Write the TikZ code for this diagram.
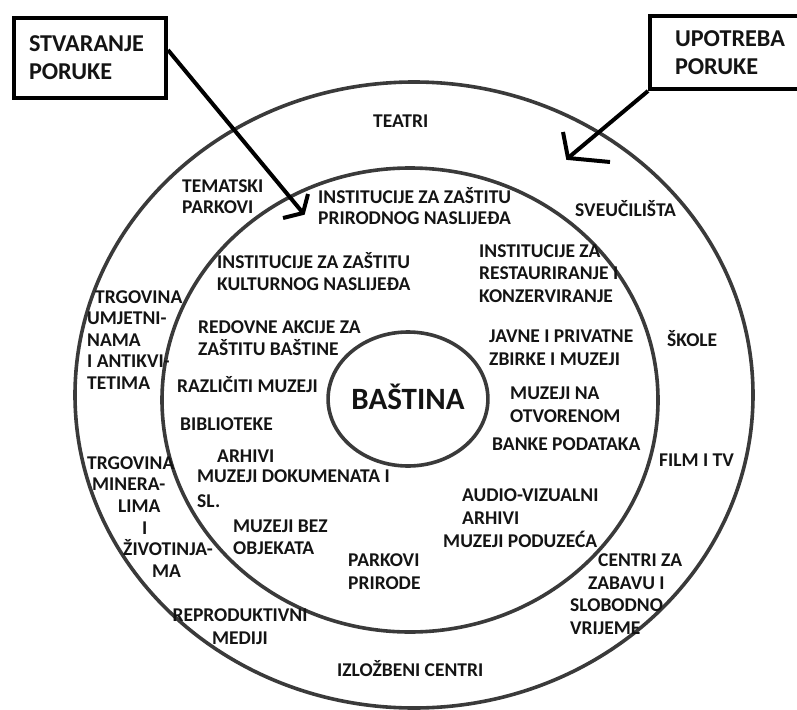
\documentclass[tikz,border=0pt]{standalone}
\usepackage{fontspec}
\setmainfont{Carlito}
\usetikzlibrary{calc,shapes.geometric}
\definecolor{ringgray}{HTML}{3A3A3A}
\definecolor{txt}{HTML}{141414}
\begin{document}
\begin{tikzpicture}[x=1pt,y=-1pt,
  ring/.style={draw=ringgray, line width=3.6pt},
  lbl/.style={font=\bfseries\fontsize{19.5}{22.5}\selectfont, inner sep=0pt, anchor=base west, align=left, text=txt},
  arr/.style={draw=black, line width=4pt},
  box/.style={draw=black, line width=4pt, font=\bfseries\fontsize{24.2}{28}\selectfont, align=left, inner ysep=0pt, text=txt, anchor=north west}]
\useasboundingbox (0,0) rectangle (797,709);
% rings
\draw[ring] (414,395) ellipse [x radius=339, y radius=313];
\draw[ring] (410,400) ellipse [x radius=248, y radius=232];
\node[ring, ellipse, minimum width=142, minimum height=134, inner sep=0pt,
      font=\bfseries\fontsize{31}{36}\selectfont, text=txt, text height=20pt, text depth=0pt] (bastina) at (408,399) {BAŠTINA};
% boxes
\node[box, text width=122, inner xsep=15, minimum height=80] (box1) at (12,16) {STVARANJE\\PORUKE};
\node[box, text width=140, inner xsep=25, minimum height=73] (box2) at (648,14) {UPOTREBA\\PORUKE};
% arrows
\coordinate (t1) at (303,213);
\coordinate (t2) at (568,158);
\draw[arr] ($(box1.east)+(0,-8)$) -- (t1);
\draw[arr] ([shift={(-20,5)}]t1) -- (t1) -- ([shift={(5,-19)}]t1);
\draw[arr] (box2.south west) -- (t2);
\draw[arr] ([shift={(-5,-26)}]t2) -- (t2) -- ([shift={(42,4)}]t2);
% outer ring labels (y = baseline of the last line)
\node[lbl] (teatri) at (373,127.3) {TEATRI};
\node[lbl, font=\bfseries\fontsize{19.5}{20.5}\selectfont] (tematski) at (182,213.3) {TEMATSKI\\PARKOVI};
\node[lbl] (sveuc) at (575,216.3) {SVEUČILIŠTA};
\node[lbl, font=\bfseries\fontsize{19.5}{21.5}\selectfont] (trg1) at (87,389.3) {\hspace*{8pt}TRGOVINA\\UMJETNI-\\NAMA\\I ANTIKVI-\\TETIMA};
\node[lbl, font=\bfseries\fontsize{19.5}{21.6}\selectfont] (trg2) at (87,577.3) {TRGOVINA\\\hspace*{5pt}MINERA-\\\hspace*{31pt}LIMA\\\hspace*{55pt}I\\\hspace*{36pt}ŽIVOTINJA-\\\hspace*{65pt}MA};
\node[lbl] (skole) at (667,346.3) {ŠKOLE};
\node[lbl] (film) at (659,466.8) {FILM I TV};
\node[lbl, font=\bfseries\fontsize{19.5}{22.8}\selectfont] (centri) at (570,634.7) {\hspace*{28pt}CENTRI ZA\\\hspace*{18pt}ZABAVU I\\SLOBODNO\\VRIJEME};
\node[lbl, align=center, anchor=base] (repro) at (240,644.3) {REPRODUKTIVNI\\MEDIJI};
\node[lbl] (izlozb) at (337,676.3) {IZLOŽBENI CENTRI};
% inner ring labels
\node[lbl, font=\bfseries\fontsize{19.5}{21}\selectfont] (instprir) at (318,224.3) {INSTITUCIJE ZA ZAŠTITU\\PRIRODNOG NASLIJEĐA};
\node[lbl, font=\bfseries\fontsize{19.5}{22}\selectfont] (instkult) at (217,290.3) {INSTITUCIJE ZA ZAŠTITU\\KULTURNOG NASLIJEĐA};
\node[lbl] (instrest) at (479,302.3) {INSTITUCIJE ZA\\RESTAURIRANJE I\\KONZERVIRANJE};
\node[lbl] (redovne) at (198,355.8) {REDOVNE AKCIJE ZA\\ZAŠTITU BAŠTINE};
\node[lbl] (razliciti) at (177,392.3) {RAZLIČITI MUZEJI};
\node[lbl] (biblio) at (180,430.8) {BIBLIOTEKE};
\node[lbl] (arhivi) at (217,462.8) {ARHIVI};
\node[lbl, font=\bfseries\fontsize{19.5}{24.5}\selectfont] (muzdok) at (197,507.3) {MUZEJI DOKUMENATA I\\SL.};
\node[lbl, font=\bfseries\fontsize{19.5}{22}\selectfont] (muzbez) at (233,554.8) {MUZEJI BEZ\\OBJEKATA};
\node[lbl, font=\bfseries\fontsize{19.5}{23}\selectfont] (parkovi) at (348,589.3) {PARKOVI\\PRIRODE};
\node[lbl, font=\bfseries\fontsize{19.5}{23}\selectfont] (javne) at (489,365.8) {JAVNE I PRIVATNE\\ZBIRKE I MUZEJI};
\node[lbl, font=\bfseries\fontsize{19.5}{23}\selectfont] (muzna) at (510,422.3) {MUZEJI NA\\OTVORENOM};
\node[lbl] (banke) at (492,450.8) {BANKE PODATAKA};
\node[lbl] (audio) at (462,524.3) {AUDIO-VIZUALNI\\ARHIVI};
\node[lbl] (muzpod) at (443,547.8) {MUZEJI PODUZEĆA};
\end{tikzpicture}
\end{document}
